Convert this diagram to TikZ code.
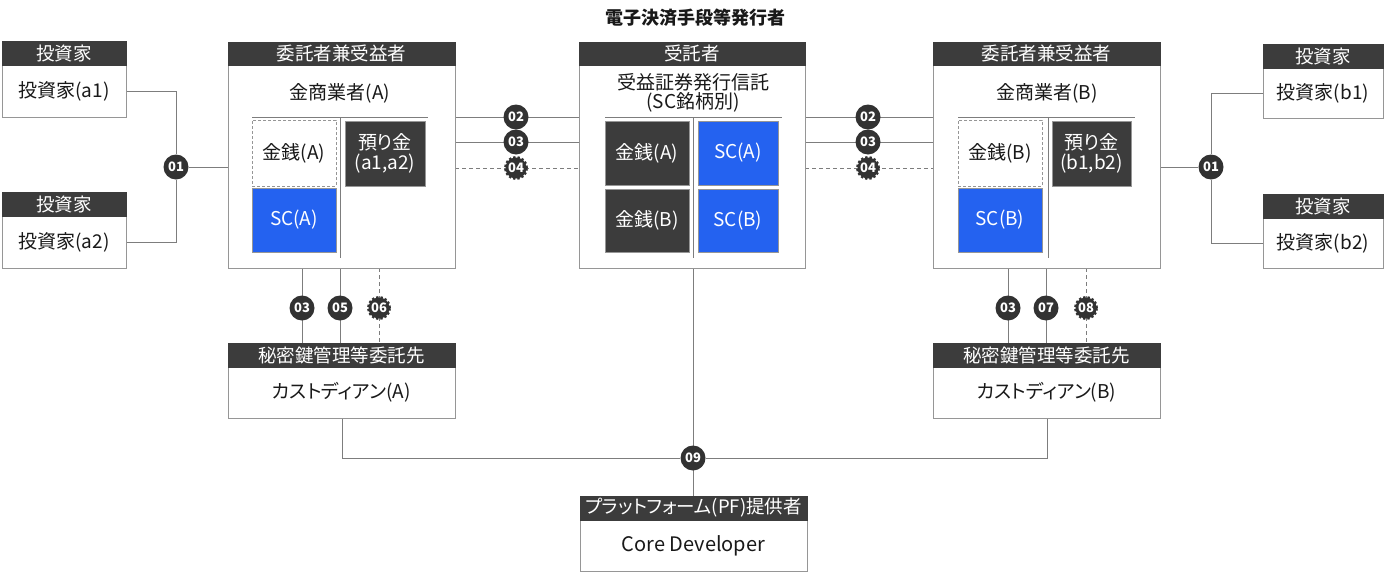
\documentclass[tikz,border=0pt]{standalone}
\usepackage{fontspec}
\setmainfont{Noto Sans CJK JP}[RawFeature={+palt}]
\usetikzlibrary{calc}
\pgfdeclarelayer{bg}
\pgfsetlayers{bg,main}
\definecolor{hdrc}{RGB}{60,60,60}
\definecolor{boxc}{RGB}{150,150,150}
\definecolor{linec}{RGB}{125,125,125}
\definecolor{badgec}{RGB}{50,50,50}
\definecolor{bluec}{RGB}{36,98,240}
\definecolor{txtc}{RGB}{25,25,25}
\tikzset{
  hdr/.style={fill=hdrc, draw=hdrc, text=white, inner sep=0pt, font=\fontsize{18.5}{19}\selectfont},
  bodybox/.style={draw=boxc, fill=white, line width=0.9pt, inner sep=0pt, text=txtc, font=\fontsize{19}{20}\selectfont},
  txt/.style={inner sep=0pt, text=txtc, font=\fontsize{19}{20}\selectfont, align=center},
  conn/.style={draw=linec, line width=1pt},
  dconn/.style={conn, dash pattern=on 4pt off 3pt},
  inner/.style={draw=linec, line width=1pt},
  badge/.style={circle, fill=badgec, text=white, inner sep=0pt, minimum size=25pt, font=\fontsize{13}{13}\selectfont\bfseries},
  dbadge/.style={badge, minimum size=21pt, draw=badgec, line width=3pt, dash pattern=on 2.4pt off 1.8pt},
  darkcell/.style={fill=hdrc, draw=boxc, line width=0.6pt, text=white, inner sep=0pt, align=center, font=\fontsize{19}{20}\selectfont},
  bluecell/.style={fill=bluec, draw=boxc, line width=0.6pt, text=white, inner sep=0pt, align=center, font=\fontsize{19}{20}\selectfont},
  dashcell/.style={fill=white, draw=boxc, line width=0.9pt, dash pattern=on 3pt off 2pt, text=txtc, inner sep=0pt, font=\fontsize{19}{20}\selectfont},
}
\begin{document}
\begin{tikzpicture}[x=1pt,y=-1pt]
\useasboundingbox (0,0) rectangle (1385,573);
% title
\node[font=\fontsize{18}{18}\selectfont\bfseries, text=txtc] (title) at (695,18) {電子決済手段等発行者};

% investors left
\node[bodybox, minimum width=124pt, minimum height=52pt] (a1) at (64,91) {投資家(a1)};
\node[hdr, minimum width=124pt, minimum height=24pt] (a1h) at (64,53) {投資家};
\node[bodybox, minimum width=124pt, minimum height=52pt] (a2) at (64,242) {投資家(a2)};
\node[hdr, minimum width=124pt, minimum height=24pt] (a2h) at (64,204) {投資家};

% investors right
\node[bodybox, minimum width=120pt, minimum height=50pt] (b1) at (1323,93) {投資家(b1)};
\node[hdr, minimum width=120pt, minimum height=24pt] (b1h) at (1323,56) {投資家};
\node[bodybox, minimum width=120pt, minimum height=50pt] (b2) at (1323,243) {投資家(b2)};
\node[hdr, minimum width=120pt, minimum height=24pt] (b2h) at (1323,206) {投資家};

% box A
\node[bodybox, minimum width=227pt, minimum height=203pt] (A) at (341.5,166.5) {};
\node[hdr, minimum width=227pt, minimum height=23pt] (Ah) at (341.5,53.5) {委託者兼受益者};
\node[txt] (Atitle) at (340,93) {金商業者(A)};
\draw[inner] (252,117) -- (428,117);
\draw[inner] (340,117) -- (340,258);
\node[dashcell, minimum width=84pt, minimum height=66pt] (Acash) at (294,153) {金銭(A)};
\node[bluecell, minimum width=84pt, minimum height=64pt] (Asc) at (294,220) {SC(A)};
\node[darkcell, minimum width=80pt, minimum height=65pt] (Adep) at (385,153.5) {預り金\\(a1,a2)};

% trust
\node[bodybox, minimum width=226pt, minimum height=203pt] (T) at (692,166.5) {};
\node[hdr, minimum width=226pt, minimum height=23pt] (Th) at (692,53.5) {受託者};
\node[txt, font=\fontsize{19}{19}\selectfont] (Ttitle) at (693,93) {受益証券発行信託\\(SC銘柄別)};
\draw[inner] (605,117) -- (782,117);
\draw[inner] (693,117) -- (693,258);
\node[darkcell, minimum width=84pt, minimum height=64pt] (TcashA) at (647,153) {金銭(A)};
\node[bluecell, minimum width=80pt, minimum height=64pt] (TscA) at (738,153) {SC(A)};
\node[darkcell, minimum width=84pt, minimum height=63pt] (TcashB) at (647,220.5) {金銭(B)};
\node[bluecell, minimum width=80pt, minimum height=63pt] (TscB) at (738,220.5) {SC(B)};

% box B
\node[bodybox, minimum width=227pt, minimum height=203pt] (B) at (1046.5,166.5) {};
\node[hdr, minimum width=227pt, minimum height=23pt] (Bh) at (1046.5,53.5) {委託者兼受益者};
\node[txt] (Btitle) at (1047,93) {金商業者(B)};
\draw[inner] (958,117) -- (1135,117);
\draw[inner] (1048,117) -- (1048,258);
\node[dashcell, minimum width=84pt, minimum height=66pt] (Bcash) at (1000,153) {金銭(B)};
\node[bluecell, minimum width=84pt, minimum height=64pt] (Bsc) at (1000,220) {SC(B)};
\node[darkcell, minimum width=79pt, minimum height=65pt] (Bdep) at (1091.5,153.5) {預り金\\(b1,b2)};

% custodians
\node[bodybox, minimum width=227pt, minimum height=51pt] (CA) at (341.5,392.5) {カストディアン(A)};
\node[hdr, minimum width=227pt, minimum height=24pt] (CAh) at (341.5,355) {秘密鍵管理等委託先};
\node[bodybox, minimum width=227pt, minimum height=51pt] (CB) at (1046.5,392.5) {カストディアン(B)};
\node[hdr, minimum width=227pt, minimum height=24pt] (CBh) at (1046.5,355) {秘密鍵管理等委託先};

% core developer
\node[bodybox, minimum width=227pt, minimum height=51pt, font=\fontsize{20}{20}\selectfont] (CD) at (693.5,545.5) {Core Developer};
\node[hdr, minimum width=227pt, minimum height=24pt] (CDh) at (693.5,508) {プラットフォーム(PF)提供者};

% badges
\node[badge] (n01L) at (176,167) {01};
\node[badge] (n02L) at (516,117) {02};
\node[badge] (n03L) at (516,142) {03};
\node[dbadge] (n04L) at (516,168) {04};
\node[badge] (n02R) at (868,117) {02};
\node[badge] (n03R) at (868,142) {03};
\node[dbadge] (n04R) at (868,168) {04};
\node[badge] (n01R) at (1211,167) {01};
\node[badge] (n03A) at (302,308) {03};
\node[badge] (n05) at (340,308) {05};
\node[dbadge] (n06) at (379,308) {06};
\node[badge] (n03B) at (1008,308) {03};
\node[badge] (n07) at (1046,308) {07};
\node[dbadge] (n08) at (1086,308) {08};
\node[badge] (n09) at (693,458) {09};

\begin{pgfonlayer}{bg}
% investors to A
\draw[conn] (a1.east) -| (n01L);
\draw[conn] (a2.east) -| (n01L);
\draw[conn] (n01L) -- (A.west |- n01L);
% investors to B
\draw[conn] (b1.west) -| (n01R);
\draw[conn] (b2.west) -| (n01R);
\draw[conn] (n01R) -- (B.east |- n01R);
% A <-> trust
\draw[conn] (A.east |- n02L) -- (T.west |- n02L);
\draw[conn] (A.east |- n03L) -- (T.west |- n03L);
\draw[dconn] (A.east |- n04L) -- (T.west |- n04L);
% trust <-> B
\draw[conn] (T.east |- n02R) -- (B.west |- n02R);
\draw[conn] (T.east |- n03R) -- (B.west |- n03R);
\draw[dconn] (T.east |- n04R) -- (B.west |- n04R);
% A <-> custodian A
\draw[conn] (n03A |- A.south) -- (n03A |- CAh.north);
\draw[conn] (n05 |- A.south) -- (n05 |- CAh.north);
\draw[dconn] (n06 |- A.south) -- (n06 |- CAh.north);
% B <-> custodian B
\draw[conn] (n03B |- B.south) -- (n03B |- CBh.north);
\draw[conn] (n07 |- B.south) -- (n07 |- CBh.north);
\draw[dconn] (n08 |- B.south) -- (n08 |- CBh.north);
% platform
\draw[conn] (n09 |- T.south) -- (n09 |- CDh.north);
\draw[conn] ([xshift=0.5pt]CA.south) |- (n09);
\draw[conn] ([xshift=0.5pt]CB.south) |- (n09);
\end{pgfonlayer}
\end{tikzpicture}
\end{document}
